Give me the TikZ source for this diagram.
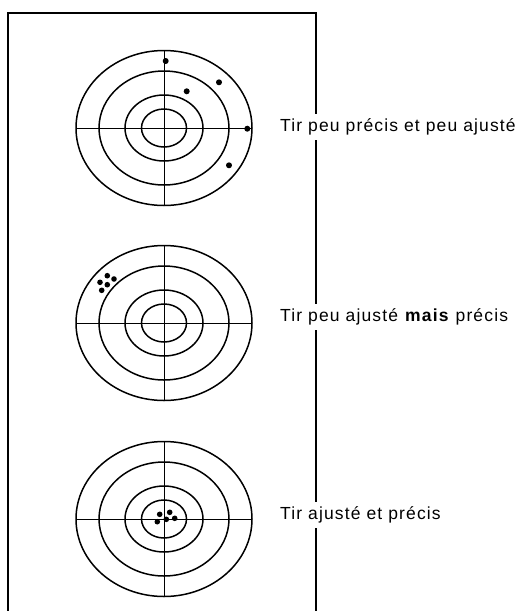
\documentclass[tikz,border=0pt]{standalone}
\usepackage{fontspec}
\setmainfont[LetterSpace=6.5]{Liberation Sans}

\tikzset{
  ring/.style={black, line width=1.5pt},
  cross/.style={black, line width=1pt},
  hit/.style={black},
  caption/.style={anchor=west, fill=white, inner xsep=2pt, inner ysep=5pt, font=\fontsize{17.5}{20}\selectfont}
}

\begin{document}
\begin{tikzpicture}[x=1pt,y=-1pt]
  \useasboundingbox (0,0) rectangle (518,611);
  % frame
  \draw [black, line width=1.5pt]    (8,611) -- (8,13) -- (316,13) -- (316,611);
  % the three targets
  \foreach \cy in {128,323,519} {
    \draw [cross]    (76,\cy) -- (252,\cy);
    \draw [cross]    (164,\cy-77.5) -- (164,\cy+77.5);
    \foreach \rx/\ry in {88/77.5,65/57,39/33,22.5/19}
      \draw [ring]    (164,\cy) ellipse [x radius=\rx pt, y radius=\ry pt];
  }
  % hits
  \foreach \dx/\dy in {1.7/-67,55/-45.7,22.7/-36.7,83.3/0.7,65/37.3}
    \fill [hit]    (164+\dx,128+\dy) circle (3pt);
  \foreach \dx/\dy in {-56.7/-47.3,-50/-44,-64/-40.7,-56.7/-38.3,-62.3/-32.7}
    \fill [hit]    (164+\dx,323+\dy) circle (2.8pt);
  \foreach \dx/\dy in {-4.3/-4.7,5.7/-6.7,-6.7/2.7,2.3/0.3,10.7/-0.7}
    \fill [hit]    (164+\dx,519+\dy) circle (2.8pt);
  % captions
  \node [caption] (lab1) at (278,127) {Tir peu précis et peu ajusté};
  \node [caption] (lab2) at (278,317) {Tir peu ajusté \textbf{mais} précis};
  \node [caption] (lab3) at (278,515) {Tir ajusté et précis};
\end{tikzpicture}
\end{document}
